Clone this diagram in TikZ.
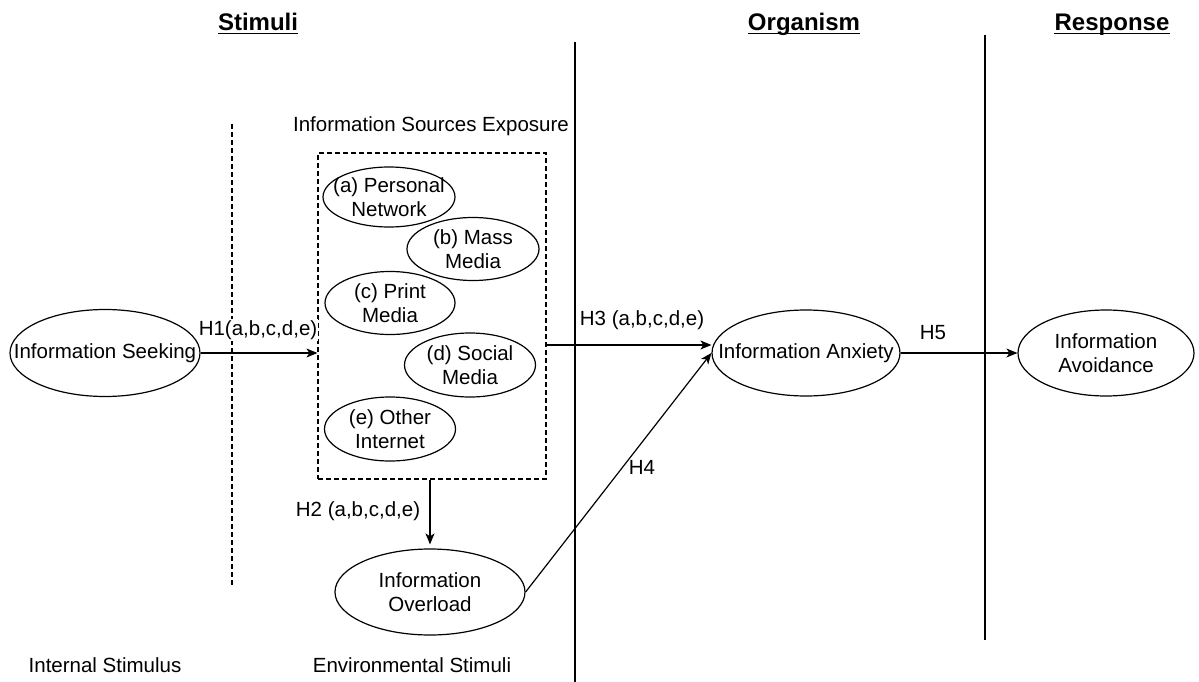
\documentclass[tikz,border=0pt]{standalone}
\usepackage{fontspec}
\setmainfont{Liberation Sans}
\usetikzlibrary{shapes.geometric,arrows.meta}
\begin{document}
\begin{tikzpicture}[x=1pt,y=-1pt,
  txt/.style={font=\fontsize{20.5}{23.5}\selectfont, inner sep=0pt, align=center},
  hdr/.style={font=\fontsize{24}{28}\selectfont\bfseries, inner sep=0pt, anchor=base},
  ul/.style={line width=1.8pt},
  ell/.style={draw, ellipse, line width=1.2pt, inner sep=0pt},
  lbl/.style={font=\fontsize{20.5}{23.5}\selectfont, align=center, inner sep=0pt},
  arr/.style={-{Stealth[length=11pt,width=9pt,inset=3pt]}, line width=1.2pt},
  dsh/.style={dash pattern=on 5pt off 3pt, line width=1.2pt},
  sline/.style={line width=1.2pt},
]
\useasboundingbox (0,0) rectangle (1199,682);

% headers
\node[hdr] (hs) at (258,31) {Stimuli};
\node[hdr] (ho) at (804,31) {Organism};
\node[hdr] (hr) at (1112,31) {Response};
\draw[ul] ([yshift=-2.5pt]hs.base west) -- ([yshift=-2.5pt]hs.base east);
\draw[ul] ([yshift=-2.5pt]ho.base west) -- ([yshift=-2.5pt]ho.base east);
\draw[ul] ([yshift=-2.5pt]hr.base west) -- ([yshift=-2.5pt]hr.base east);

% separators
\coordinate (d1) at (232,124);
\coordinate (d2) at (232,585);
\draw[dsh] (d1) -- (d2);
\coordinate (v1a) at (575,42);
\coordinate (v1b) at (575,682);
\draw[sline] (v1a) -- (v1b);
\coordinate (v2a) at (985,35);
\coordinate (v2b) at (985,640);
\draw[sline] (v2a) -- (v2b);

% information sources box
\node[draw, dsh, minimum width=228pt, minimum height=326pt, inner sep=0pt] (box) at (432,316) {};
\node[txt] (ise) at (431,126) {Information Sources Exposure};

\node[ell, minimum width=132pt, minimum height=60pt, label={[lbl]center:(a) Personal\\Network}] (pn) at (389,197) {};
\node[ell, minimum width=132pt, minimum height=63pt, label={[lbl]center:(b) Mass\\Media}] (mm) at (473,249) {};
\node[ell, minimum width=130pt, minimum height=63pt, label={[lbl]center:(c) Print\\Media}] (pm) at (390,303) {};
\node[ell, minimum width=131pt, minimum height=64pt, label={[lbl]center:(d) Social\\Media}] (sm) at (470,365) {};
\node[ell, minimum width=131pt, minimum height=64pt, label={[lbl]center:(e) Other\\Internet}] (oi) at (390,429) {};

% main constructs
\node[ell, minimum width=190pt, minimum height=87pt, label={[lbl]center:Information Seeking}] (seek) at (105,353) {};
\node[ell, minimum width=190pt, minimum height=86pt, label={[lbl]center:Information\\Overload}] (ovl) at (430,592) {};
\node[ell, minimum width=188pt, minimum height=86pt, label={[lbl]center:Information Anxiety}] (anx) at (806,353) {};
\node[ell, minimum width=176pt, minimum height=86pt, label={[lbl]center:Information\\Avoidance}] (avl) at (1106,353) {};

% connectors
\node[txt, fill=white, inner sep=1pt] (h1) at (258,330) {H1(a,b,c,d,e)};
\draw[arr] (seek.east) -- (box.west |- seek.east);

\draw[arr, shorten >=4pt] (box.south -| ovl.north) -- (ovl.north);
\node[txt] (h2) at (358,511) {H2 (a,b,c,d,e)};

\coordinate (h3y) at (0,345);
\draw[arr] (box.east |- h3y) -- (anx.west |- h3y);
\node[txt] (h3) at (642,320) {H3 (a,b,c,d,e)};

\draw[arr] (ovl.east) -- (anx.west);
\node[txt] (h4) at (642,467) {H4};

\draw[arr] (anx.east) -- (avl.west);
\node[txt] (h5) at (933,333) {H5};

% bottom labels
\node[txt] (is) at (105,665) {Internal Stimulus};
\node[txt] (es) at (412,665) {Environmental Stimuli};
\end{tikzpicture}
\end{document}
